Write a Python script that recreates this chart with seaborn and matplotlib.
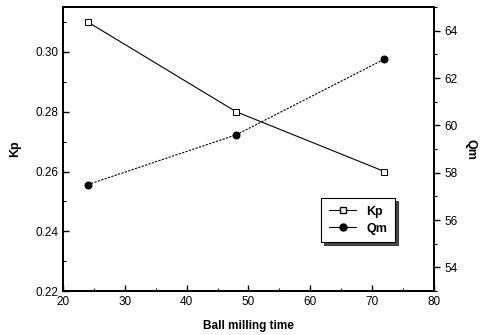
import matplotlib
matplotlib.use("Agg")
import matplotlib.pyplot as plt
import seaborn as sns
import pandas as pd
from matplotlib.ticker import MultipleLocator
from matplotlib.lines import Line2D

time = [24, 48, 72]
kp = [0.31, 0.28, 0.26]
qm = [57.5, 59.6, 62.8]

sns.set_style("ticks")
plt.rcParams['font.family'] = ['Liberation Sans', 'DejaVu Sans']
plt.rcParams['text.color'] = 'black'
plt.rcParams['axes.labelcolor'] = 'black'
plt.rcParams['xtick.color'] = 'black'
plt.rcParams['ytick.color'] = 'black'

df_kp = pd.DataFrame({"t": time, "v": kp})
df_qm = pd.DataFrame({"t": time, "v": qm})

fig = plt.figure(figsize=(4.81, 3.35), dpi=100)
ax = fig.add_axes([0.131, 0.131, 0.771, 0.848])
ax2 = ax.twinx()

sns.lineplot(data=df_kp, x="t", y="v", ax=ax, color="black", lw=0.8,
             marker="s", markersize=4, markerfacecolor="white",
             markeredgecolor="black", markeredgewidth=0.7)
sns.lineplot(data=df_qm, x="t", y="v", ax=ax2, color="black", lw=0.8,
             linestyle=(0, (2, 1.2)), marker="o", markersize=5,
             markerfacecolor="black", markeredgecolor="black")

ax.set_xlim(20, 80)
ax.set_ylim(0.22, 0.315)
ax2.set_ylim(53, 65)
ax.set_xticks([20, 30, 40, 50, 60, 70, 80])
ax.set_yticks([0.22, 0.24, 0.26, 0.28, 0.30])
ax2.set_yticks([54, 56, 58, 60, 62, 64])
ax.xaxis.set_minor_locator(MultipleLocator(5))
ax.yaxis.set_minor_locator(MultipleLocator(0.01))
ax2.yaxis.set_minor_locator(MultipleLocator(1))

for a in (ax, ax2):
    for s in a.spines.values():
        s.set_visible(True)
        s.set_linewidth(1.3)
        s.set_color("black")

ax.tick_params(axis="both", which="major", direction="in", length=4, width=1,
               labelsize=8.5, colors="black")
ax.tick_params(axis="both", which="minor", direction="in", length=2, width=0.8)
ax2.tick_params(axis="y", which="major", direction="out", length=4, width=1,
                labelsize=8.5, colors="black")
ax2.tick_params(axis="y", which="minor", direction="out", length=2, width=0.8)
ax.set_yticklabels(["0.22", "0.24", "0.26", "0.28", "0.30"])

ax.set_xlabel("Ball milling time", fontsize=8.5, fontweight="bold", labelpad=9)
ax.set_ylabel("Kp", fontsize=9, fontweight="bold", labelpad=10)
ax2.set_ylabel("Qm", fontsize=9, fontweight="bold", rotation=-90, labelpad=14)

handles = [
    Line2D([], [], color="black", lw=0.8, marker="s", markersize=4,
           markerfacecolor="white", markeredgecolor="black"),
    Line2D([], [], color="black", lw=0.8, marker="o", markersize=5,
           markerfacecolor="black"),
]
leg = ax.legend(handles, ["Kp", "Qm"], loc="lower left",
                bbox_to_anchor=(0.68, 0.15), frameon=True, shadow={"color": "0.2", "alpha": 0.9},
                fancybox=False, prop={"weight": "bold", "size": 9},
                handlelength=2.2, borderpad=0.6, labelspacing=0.4)
leg.get_frame().set_edgecolor("black")
leg.get_frame().set_linewidth(0.8)

fig.savefig("out.png", dpi=100)
